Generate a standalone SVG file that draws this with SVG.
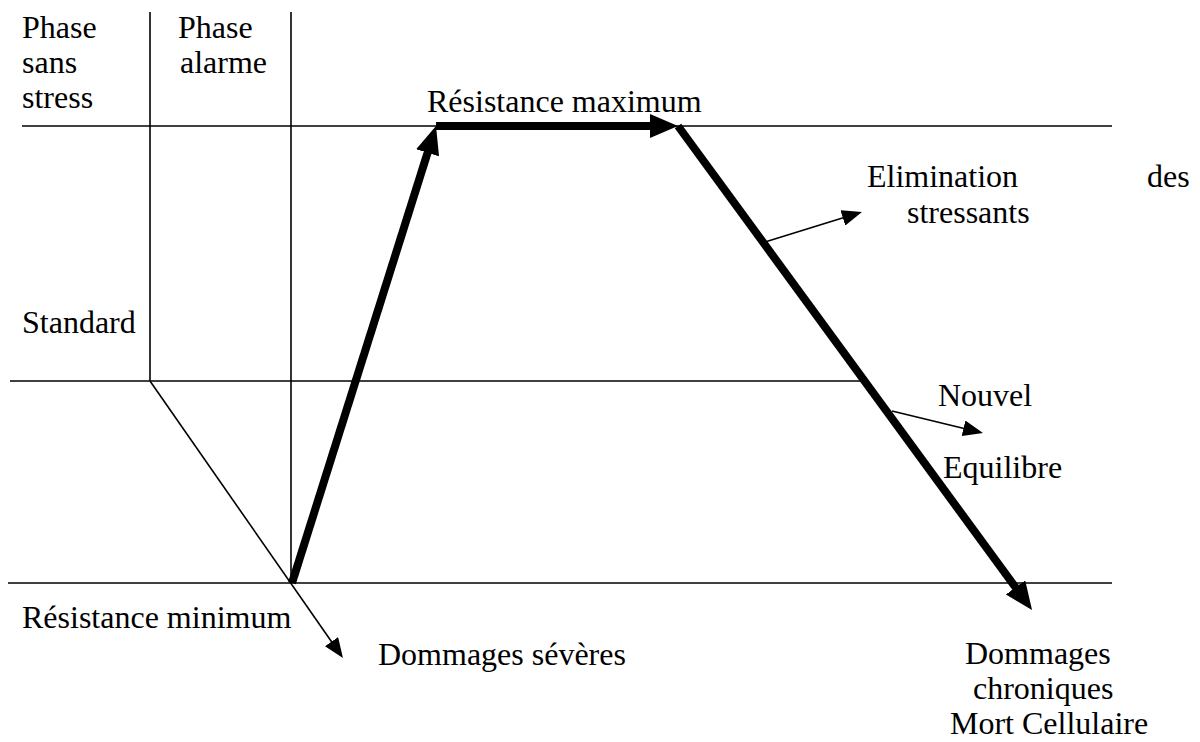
<svg xmlns="http://www.w3.org/2000/svg" width="1200" height="742" viewBox="0 0 1200 742">
<style>
text{font-family:"Liberation Serif",Tinos,"Times New Roman","DejaVu Serif",serif;font-size:32px;fill:#000}
.ax{stroke:#000;stroke-width:1.6;fill:none}
.thin{stroke:#000;stroke-width:1.6;fill:none;marker-end:url(#ah)}
.thick{stroke:#000;stroke-width:8;fill:none;marker-end:url(#AH)}
</style>
<defs>
<marker id="AH" markerUnits="userSpaceOnUse" markerWidth="28" markerHeight="24" refX="12" refY="12" orient="auto"><path d="M0,0 L28,12 L0,24 z" fill="#000"/></marker>
<marker id="ah" markerUnits="userSpaceOnUse" markerWidth="20" markerHeight="16" refX="8" refY="8" orient="auto"><path d="M0,0 L20,8 L0,16 z" fill="#000"/></marker>
</defs>
<g id="axes">
<line class="ax" x1="22" y1="126" x2="1112" y2="126"/>
<line class="ax" x1="10" y1="381" x2="865" y2="381"/>
<line class="ax" x1="8" y1="583" x2="1112" y2="583"/>
<line class="ax" x1="150" y1="12" x2="150" y2="381"/>
<line class="ax" x1="291" y1="12" x2="291" y2="583"/>
</g>
<g id="connectors">
<line class="thin" x1="150" y1="381" x2="336.1" y2="648.2"/>
<line class="thick" x1="292" y1="583" x2="431.2" y2="141.3"/>
<line class="thick" x1="436" y1="126" x2="662" y2="126"/>
<line class="thick" x1="678" y1="126" x2="1022.6" y2="597.1"/>
<line class="thin" x1="765" y1="242" x2="850.5" y2="215.6"/>
<line class="thin" x1="892" y1="411" x2="971.3" y2="430.2"/>
</g>
<g id="phase-sans-stress"><text x="22" y="38">Phase</text><text x="22" y="73">sans</text><text x="22" y="108">stress</text></g>
<g id="phase-alarme"><text x="178" y="38">Phase</text><text x="180" y="73">alarme</text></g>
<g id="resistance-maximum"><text x="427" y="112">Résistance maximum</text></g>
<g id="elimination"><text x="867" y="187">Elimination</text><text x="1147" y="187">des</text><text x="907" y="223">stressants</text></g>
<g id="standard"><text x="22" y="333">Standard</text></g>
<g id="nouvel-equilibre"><text x="938" y="406">Nouvel</text><text x="943" y="478">Equilibre</text></g>
<g id="resistance-minimum"><text x="22" y="628">Résistance minimum</text></g>
<g id="dommages-severes"><text x="378" y="665">Dommages sévères</text></g>
<g id="dommages-chroniques"><text x="965" y="664">Dommages</text><text x="973" y="699">chroniques</text><text x="950" y="734">Mort Cellulaire</text></g>
</svg>
